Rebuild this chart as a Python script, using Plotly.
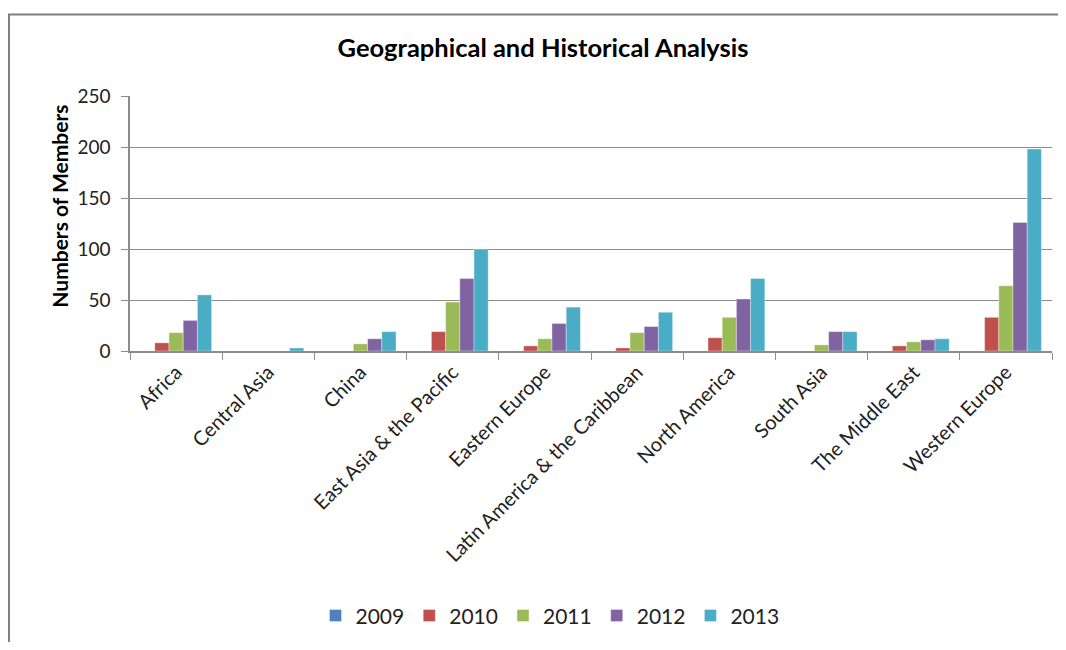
import plotly.graph_objects as go

categories = ["Africa", "Central Asia", "China", "East Asia & the Pacific", "Eastern Europe",
              "Latin America & the Caribbean", "North America", "South Asia",
              "The Middle East", "Western Europe"]
years = ["2009", "2010", "2011", "2012", "2013"]
v2009 = [0, 0, 0, 0, 0, 0, 0, 0, 0, 0]
v2010 = [8, 0, 0, 19, 5, 3, 13, 0, 5, 33]
v2011 = [18, 0, 7, 48, 12, 18, 33, 6, 9, 64]
v2012 = [30, 0, 12, 71, 27, 24, 51, 19, 11, 126]
v2013 = [55, 3, 19, 100, 43, 38, 71, 19, 12, 198]
values = [v2009, v2010, v2011, v2012, v2013]
colors = ["#4F81BD", "#C0504D", "#9BBB59", "#8064A2", "#4BACC6"]

FONT = "Lato, 'Open Sans', sans-serif"

fig = go.Figure()
for y, vals, c in zip(years, values, colors):
    fig.add_trace(go.Bar(name=y, x=categories, y=vals,
                         marker=dict(color=c, line=dict(width=0.6, color="rgba(255,255,255,0.6)"))))

# page offset from default body margin
OFF = 8
W, H = 1066 - 2 * OFF, 650 - 2 * OFF
# plot area in page coordinates
PX0, PX1, PY0, PY1 = 130, 1052, 96, 354
L, R = PX0 - OFF, W - (PX1 - OFF)
T, B = PY0 - OFF, H - (PY1 - OFF)
pw, ph = W - L - R, H - T - B

def px(x):
    return (x - OFF - L) / pw

def py(y):
    return (H - B - (y - OFF)) / ph

fig.update_layout(
    width=W, height=H,
    margin=dict(l=L, r=R, t=T, b=B),
    paper_bgcolor="white", plot_bgcolor="white",
    barmode="group", bargap=0.23, bargroupgap=0,
    font=dict(family=FONT, size=20, color="#222222"),
    title=dict(text="<b>Geographical and Historical Analysis</b>", x=px(543), xref="paper",
               xanchor="center", y=1 - (48 - OFF) / H, yanchor="middle",
               font=dict(size=25.5, color="#000000")),
    showlegend=True,
    legend=dict(orientation="h", x=px(550), xanchor="center", y=py(622), yanchor="middle",
                font=dict(size=21, color="#222222"), traceorder="normal", itemwidth=30),
    xaxis=dict(showline=True, linecolor="#8c8c8c", linewidth=1.5, ticks="outside",
               tickson="boundaries", ticklen=7, tickcolor="#8c8c8c", tickangle=-45,
               tickfont=dict(size=20), showgrid=False),
    yaxis=dict(range=[0, 250], dtick=50, showline=True, linecolor="#8c8c8c", linewidth=1.5,
               ticks="outside", ticklen=7, tickcolor="#8c8c8c", showgrid=True,
               gridcolor="#8c8c8c", gridwidth=1, tickfont=dict(size=19), zeroline=False,
               ticklabelstandoff=7),
    annotations=[dict(text="<b>Numbers of Members</b>", textangle=-90, x=px(60), y=py(208),
                      xref="paper", yref="paper", xanchor="center", yanchor="middle",
                      showarrow=False, font=dict(size=21, color="#000000"))],
    shapes=[
        dict(type="line", xref="paper", yref="paper", x0=px(8), x1=px(1080), y0=py(13.5), y1=py(13.5),
             line=dict(color="#7f7f7f", width=2)),
        dict(type="line", xref="paper", yref="paper", x0=px(9), x1=px(9), y0=py(13.5), y1=py(680),
             line=dict(color="#7f7f7f", width=2)),
    ],
)

fig.write_html("out.html")
